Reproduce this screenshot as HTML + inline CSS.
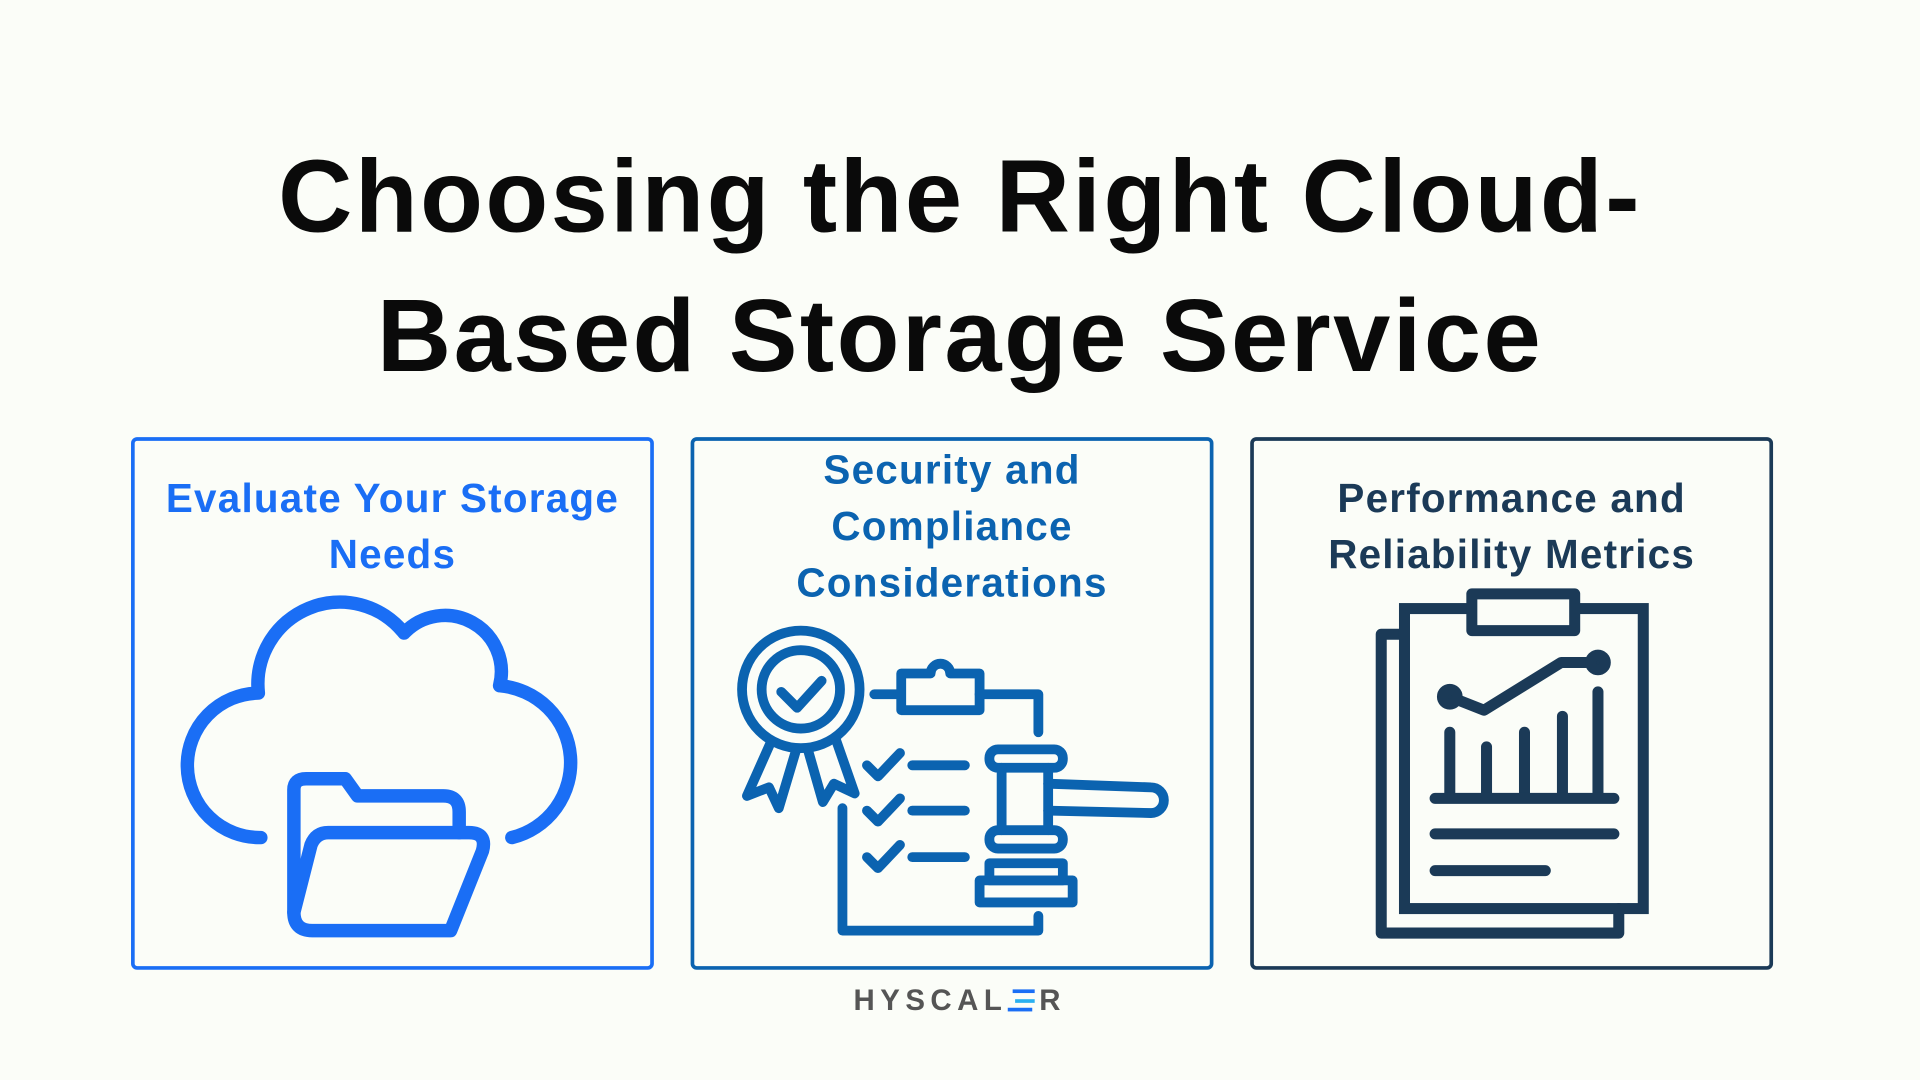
<!DOCTYPE html>
<html><head><meta charset="utf-8"><style>
html,body{margin:0;padding:0;width:1920px;height:1080px;overflow:hidden;background:#fbfdf8;}
#s{position:absolute;left:0;top:0;width:1568px;height:882px;transform:scale(1.22449);transform-origin:0 0;font-family:"Liberation Sans",sans-serif;}
.t{position:absolute;left:0;width:1568px;text-align:center;font-weight:bold;font-size:84px;color:#0a0a0a;letter-spacing:2px;}
.box{position:absolute;top:357px;width:421px;height:429px;border:3px solid;border-radius:5px;}
.bt{position:absolute;left:0;width:100%;text-align:center;font-weight:bold;font-size:33px;line-height:46px;letter-spacing:1px;}
.logo{position:absolute;top:804px;left:697px;font-size:24px;font-weight:bold;color:#555;letter-spacing:4.5px;}
</style></head><body><div id="s">
<div class="t" style="top:112px;line-height:96px">Choosing the Right Cloud-</div>
<div class="t" style="top:226px;line-height:96px">Based Storage Service</div>

<div class="box" style="left:107px;border-color:#1a6ef5"><div class="bt" style="top:24px;color:#1a6ef5">Evaluate Your Storage<br>Needs</div></div>
<div class="box" style="left:564px;border-color:#0b63b0"><div class="bt" style="top:1px;color:#0b63b0">Security and<br>Compliance<br>Considerations</div></div>
<div class="box" style="left:1021px;border-color:#1b3a57"><div class="bt" style="top:24px;color:#1b3a57">Performance and<br>Reliability Metrics</div></div>

<svg width="1568" height="882" style="position:absolute;left:0;top:0" fill="none" stroke-linecap="round" stroke-linejoin="round">
<g stroke="#1a6ef5" stroke-width="11">
<path d="M213,684 A59,59 0 0 1 211,566 A67,67 0 0 1 330,517 A46,46 0 0 1 408,560 A63,63 0 0 1 418,684"/>
<path d="M240,745 V645 Q240,636 250,636 H282 L292,650 H362 Q375,650 375,663 V680"/>
<path d="M240,745 Q240,760 255,760 H368 L394,695 Q398,680 383,680 H268 Q258,680 254,690 Z"/>
</g>
<g stroke="#0b63b0" stroke-width="8">
<circle cx="654" cy="563" r="48"/><circle cx="654" cy="563" r="32"/>
<path d="M638,565 L651,578 L671,556"/>
<path d="M630,605 L610,650 L628,643 L636,660 L650,613"/>
<path d="M660,613 L672,655 L681,640 L698,648 L683,605"/>
<path d="M714,567 H736 V550 H760 A8,8 0 0 1 776,550 H800 V580 H736 V567"/>
<path d="M800,567 H848 V598"/>
<path d="M688,660 V760 H848 V748"/>
<path d="M708,625 L717,634 L735,615 M745,625 H788"/>
<path d="M708,662 L717,671 L735,652 M745,662 H788"/>
<path d="M708,700 L717,709 L735,690 M745,700 H788"/>
<rect x="808" y="612" width="60" height="15" rx="7"/>
<rect x="808" y="678" width="60" height="15" rx="7"/>
<path d="M818,627 V678 M856,627 V678"/>
<path d="M856,640 L940,643 A10,10 0 0 1 940,664 L856,662"/>
<rect x="808" y="705" width="60" height="14"/>
<rect x="800" y="719" width="76" height="18"/>
</g>
<g stroke="#1b3a57" stroke-width="9">
<path d="M1147,518 H1128 V762 H1322 V742"/>
<rect x="1147" y="497" width="195" height="245" stroke-linejoin="miter"/>
<rect x="1202" y="485" width="84" height="30" fill="#fbfdf8"/>
<path d="M1184,569 L1212,580 L1275,541 L1305,541"/>
<circle cx="1184" cy="569" r="6" fill="#1b3a57"/><circle cx="1305" cy="541" r="6" fill="#1b3a57"/>
<path d="M1184,598 V650 M1214,610 V650 M1245,598 V650 M1276,585 V650 M1305,565 V650"/>
<path d="M1172,652 H1318 M1172,681 H1318 M1172,711 H1262"/>
</g>
</svg>
<div class="logo">HYSCAL<span style="display:inline-block;width:22px;height:18px;position:relative;vertical-align:-1px;margin-right:4px"><span style="position:absolute;left:4px;top:0;width:18px;height:3px;background:#1a6ef5"></span><span style="position:absolute;left:6px;top:8px;width:16px;height:3px;background:#2ab0f0"></span><span style="position:absolute;left:0;top:15px;width:20px;height:3px;background:#1a6ef5"></span></span>R</div>
</div></body></html>
